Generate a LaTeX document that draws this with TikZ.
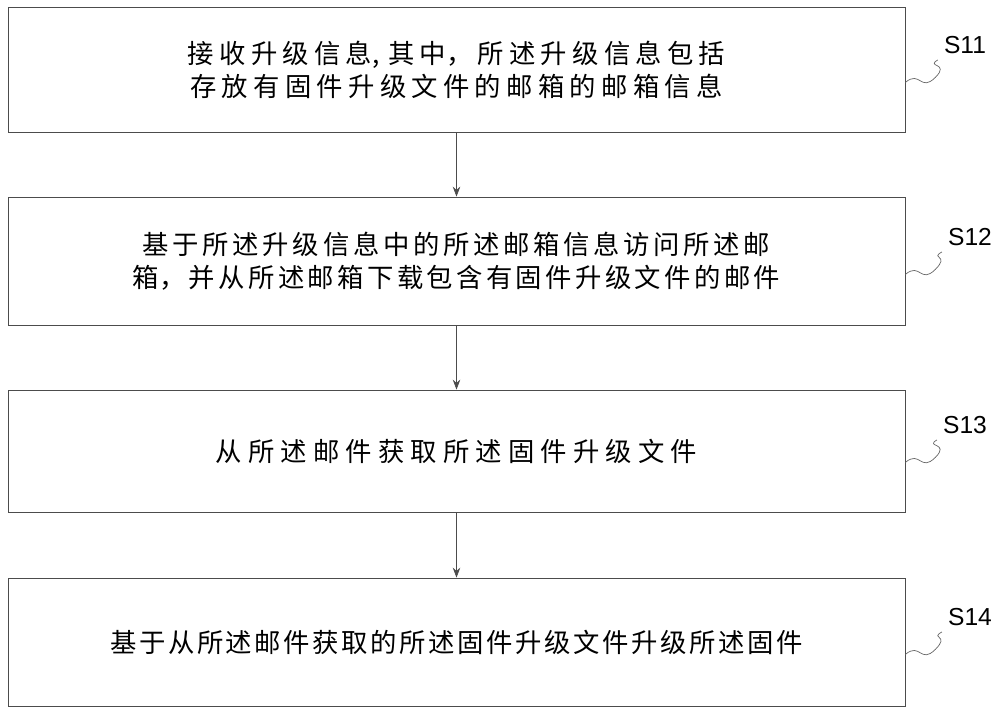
\documentclass[tikz,border=0pt]{standalone}
\usepackage{fontspec}
\setmainfont{Liberation Sans}
\newfontfamily\cjk{Noto Sans CJK SC}
\XeTeXlinebreaklocale "zh"
\XeTeXlinebreakskip=0pt plus 1pt
\usetikzlibrary{positioning,arrows.meta}
\tikzset{
  stepbox/.style={draw=black!70,minimum width=17.94cm,minimum height=2.5cm,
    text width=17cm,align=center,font=\cjk\fontsize{15}{19}\selectfont,inner sep=0pt},
  wave/.style={draw=black!60,thin},
  steplabel/.style={font=\fontsize{14}{16}\selectfont}
}
\begin{document}
\begin{tikzpicture}
  \useasboundingbox (0,0) rectangle (20,14.32);
  %Boxes
  \node[stepbox] (s11) at (9.13,12.92) {接收升级信息, 其中，所述升级信息包括存放有固件升级文件的邮箱的邮箱信息};
  \node[stepbox,minimum height=2.56cm] (s12) at (9.13,9.1) {基于所述升级信息中的所述邮箱信息访问所述邮箱，并从所述邮箱下载包含有固件升级文件的邮件};
  \node[stepbox,minimum height=2.44cm] (s13) at (9.13,5.3) {从所述邮件获取所述固件升级文件};
  \node[stepbox,minimum height=2.56cm] (s14) at (9.13,1.48) {基于从所述邮件获取的所述固件升级文件升级所述固件};
  %Arrows
  \draw[-{Stealth[length=2mm]},black!70] (s11) -- (s12);
  \draw[-{Stealth[length=2mm]},black!70] (s12) -- (s13);
  \draw[-{Stealth[length=2mm]},black!70] (s13) -- (s14);
  %Labels
  \node[steplabel] (l11) at (19.3,13.42) {S11};
  \node[steplabel] (l12) at (19.4,9.58) {S12};
  \node[steplabel] (l13) at (19.3,5.82) {S13};
  \node[steplabel] (l14) at (19.4,1.98) {S14};
  \foreach \n in {11,12,13,14}{
    \draw[wave] (s\n.east |- l\n.south west) ++(0,-0.45) .. controls +(0.3,0.25) and +(-0.3,-0.3) .. +(0.6,0.1) .. controls +(0.3,0.3) and +(-0.25,-0.15) .. (l\n.south west);
  }
\end{tikzpicture}
\end{document}
